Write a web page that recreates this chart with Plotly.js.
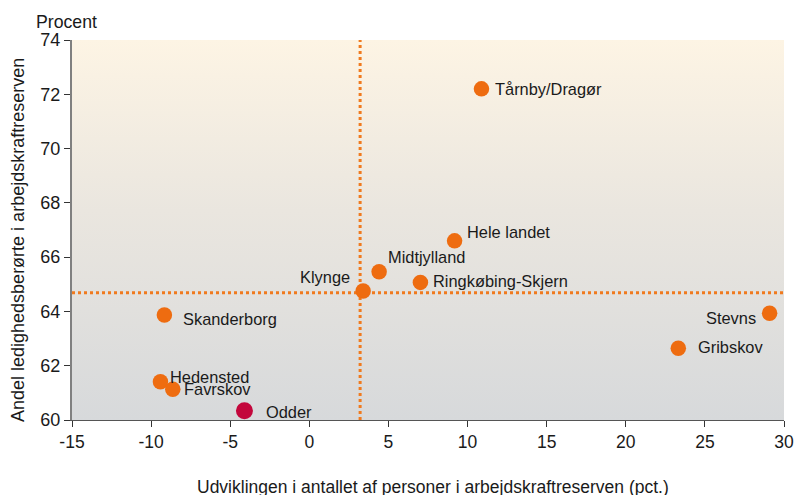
<!DOCTYPE html>
<html>
<head>
<meta charset="utf-8">
<script src="https://cdn.plot.ly/plotly-3.0.1.min.js"></script>
<style>html,body{margin:0;padding:0;background:#fff;}#chart{width:794px;height:495px;}</style>
</head>
<body>
<div id="chart"></div>
<script>
// Data
var names = ["Tårnby/Dragør","Hele landet","Midtjylland","Ringkøbing-Skjern","Klynge","Skanderborg","Hedensted","Favrskov","Odder","Stevns","Gribskov"];
var xVals = [10.88, 9.18, 4.41, 7.02, 3.40, -9.16, -9.41, -8.63, -4.10, 29.09, 23.32];
var yVals = [72.2, 66.6, 65.46, 65.07, 64.75, 63.87, 61.41, 61.13, 60.34, 63.93, 62.64];
var refX = 3.21;   // vertical reference line
var refY = 64.69;  // horizontal reference line
var xTicks = [-15, -10, -5, 0, 5, 10, 15, 20, 25, 30];
var yTicks = [60, 62, 64, 66, 68, 70, 72, 74];
var xTitle = "Udviklingen i antallet af personer i arbejdskraftreserven (pct.)";
var yTitle = "Andel ledighedsberørte i arbejdskraftreserven";
var unitLabel = "Procent";

// Styles (label placement, colours)
var labelStyle = [
  {xa:"left",  dx:12, dy:0},
  {xa:"left",  dx:10, dy:9},
  {xa:"left",  dx:7,  dy:15},
  {xa:"left",  dx:11, dy:1},
  {xa:"right", dx:-11,dy:14},
  {xa:"left",  dx:17, dy:-4},
  {xa:"left",  dx:8,  dy:5},
  {xa:"left",  dx:9,  dy:0},
  {xa:"left",  dx:20, dy:-1},
  {xa:"right", dx:-12,dy:-5},
  {xa:"left",  dx:18, dy:1}
];
var FONT = "Liberation Sans, Arial, sans-serif";
var orange = "#EE6C10";
var highlight = "#C3073C";
var colors = names.map(function(n){ return n === "Odder" ? highlight : orange; });
var sizes = names.map(function(n){ return n === "Odder" ? 17 : 15.5; });

var bgSvg = '<svg xmlns="http://www.w3.org/2000/svg" width="10" height="100" preserveAspectRatio="none">' +
  '<defs><linearGradient id="g" x1="0" y1="0" x2="0" y2="1">' +
  '<stop offset="0" stop-color="#FDF4E4"/><stop offset="0.45" stop-color="#EAE6DF"/><stop offset="1" stop-color="#D7D9DB"/>' +
  '</linearGradient></defs><rect width="10" height="100" fill="url(#g)"/></svg>';
var bgUri = "data:image/svg+xml;base64," + btoa(bgSvg);

var trace = {
  type: "scatter",
  mode: "markers",
  x: xVals,
  y: yVals,
  marker: {color: colors, size: sizes, opacity: 1, line: {width: 0}},
  hoverinfo: "skip",
  cliponaxis: false
};

var annotations = names.map(function(n, i){
  var s = labelStyle[i];
  return {
    x: xVals[i], y: yVals[i], xref: "x", yref: "y",
    text: n, showarrow: false,
    xanchor: s.xa, yanchor: "middle",
    xshift: s.dx, yshift: s.dy,
    font: {family: FONT, size: 16.4, color: "#1a1a1a"}
  };
});
annotations.push({
  xref: "paper", yref: "paper", x: -0.0084, y: 1.0, yshift: 18,
  xanchor: "center", yanchor: "middle",
  text: unitLabel, showarrow: false,
  font: {family: FONT, size: 17.7, color: "#1a1a1a"}
});
annotations.push({
  xref: "paper", yref: "paper", x: 0.507, y: 0, yshift: -67,
  xanchor: "center", yanchor: "middle",
  text: xTitle, showarrow: false,
  font: {family: FONT, size: 17.5, color: "#1a1a1a"}
});
annotations.push({
  xref: "paper", yref: "paper", x: 0, xshift: -54, y: 0.4737,
  xanchor: "center", yanchor: "middle", textangle: -90,
  text: yTitle, showarrow: false,
  font: {family: FONT, size: 18, color: "#1a1a1a"}
});

var layout = {
  width: 794, height: 495,
  margin: {l: 72, r: 10, t: 40, b: 75},
  paper_bgcolor: "#ffffff",
  plot_bgcolor: "rgba(0,0,0,0)",
  showlegend: false,
  font: {family: FONT, size: 18, color: "#1a1a1a"},
  xaxis: {
    range: [-15, 30], tickvals: xTicks, ticktext: xTicks.map(String),
    showgrid: false, zeroline: false,
    showline: true, linecolor: "#555555", linewidth: 1,
    ticks: "outside", ticklen: 6, tickcolor: "#333333", tickwidth: 1,
    tickfont: {size: 17.5}
  },
  yaxis: {
    range: [60, 74], tickvals: yTicks, ticktext: yTicks.map(String),
    showgrid: false, zeroline: false,
    showline: true, linecolor: "#808080", linewidth: 2,
    ticks: "outside", ticklen: 6, tickcolor: "#333333", tickwidth: 1,
    tickfont: {size: 18}
  },
  images: [{
    source: bgUri, xref: "paper", yref: "paper",
    x: 0, y: 1, sizex: 1, sizey: 1, xanchor: "left", yanchor: "top",
    sizing: "stretch", layer: "below"
  }],
  shapes: [
    {type: "line", xref: "x", yref: "paper", x0: refX, x1: refX, y0: 0, y1: 1,
     line: {color: "#F07A1E", width: 3, dash: "dot"}, layer: "below"},
    {type: "line", xref: "paper", yref: "y", x0: 0, x1: 1, y0: refY, y1: refY,
     line: {color: "#F07A1E", width: 3, dash: "dot"}, layer: "below"}
  ],
  annotations: annotations
};

Plotly.newPlot("chart", [trace], layout, {displayModeBar: false, staticPlot: true});
</script>
</body>
</html>
